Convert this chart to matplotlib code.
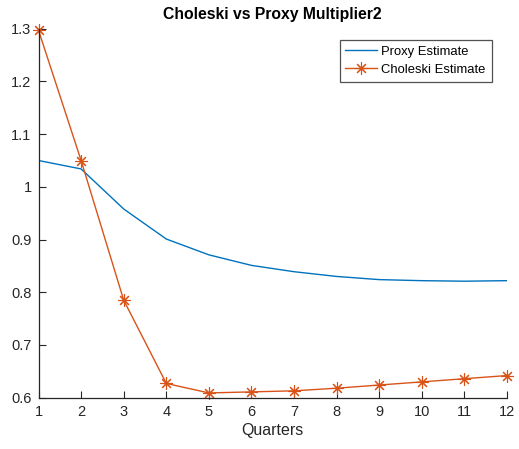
import matplotlib
matplotlib.use("Agg")
import matplotlib.pyplot as plt

quarters = list(range(1, 13))
proxy = [1.050, 1.034, 0.958, 0.901, 0.871, 0.851, 0.839, 0.830, 0.824, 0.822, 0.821, 0.822]
choleski = [1.297, 1.050, 0.785, 0.627, 0.609, 0.611, 0.613, 0.618, 0.624, 0.630, 0.636, 0.642]
yticks = [0.6, 0.7, 0.8, 0.9, 1.0, 1.1, 1.2, 1.3]
ytick_labels = ["0.6", "0.7", "0.8", "0.9", "1", "1.1", "1.2", "1.3"]

plt.rcParams["font.family"] = ["Liberation Sans", "DejaVu Sans"]
axis_color = "#262626"

fig = plt.figure(figsize=(5.19, 4.49), dpi=100)
ax = fig.add_axes([0.0742, 0.1143, 0.9028, 0.8217])

ax.plot(quarters, proxy, color="#0072BD", lw=1.0, label="Proxy Estimate")
# MATLAB '*' marker: 8-spoke asterisk
ax.plot(quarters, choleski, color="#D95319", lw=1.0, marker=(8, 2, 0), ms=9,
        mew=0.8, label="Choleski Estimate", clip_on=False)

ax.set_xlim(1, 12)
ax.set_ylim(0.6, 1.3)
ax.set_xticks(quarters)
ax.set_yticks(yticks)
ax.set_yticklabels(ytick_labels)
for side in ["top", "right"]:
    ax.spines[side].set_visible(False)
for side in ["left", "bottom"]:
    ax.spines[side].set_color(axis_color)
    ax.spines[side].set_linewidth(0.9)
ax.tick_params(direction="in", length=5, width=0.8, colors=axis_color,
               labelsize=10.5, pad=5)
ax.set_xlabel("Quarters", fontsize=11.5, color=axis_color, labelpad=3)
ax.set_title("Choleski vs Proxy Multiplier2", fontsize=11.3,
             fontweight="bold", pad=7)

leg = ax.legend(loc="upper right", bbox_to_anchor=(0.967, 0.97),
                frameon=True, fancybox=False, fontsize=9.4,
                handlelength=2.4, handletextpad=0.35, borderpad=0.45,
                labelspacing=0.45, borderaxespad=0.0)
leg.get_frame().set_edgecolor(axis_color)
leg.get_frame().set_linewidth(0.9)

fig.savefig("out.png", dpi=100)
